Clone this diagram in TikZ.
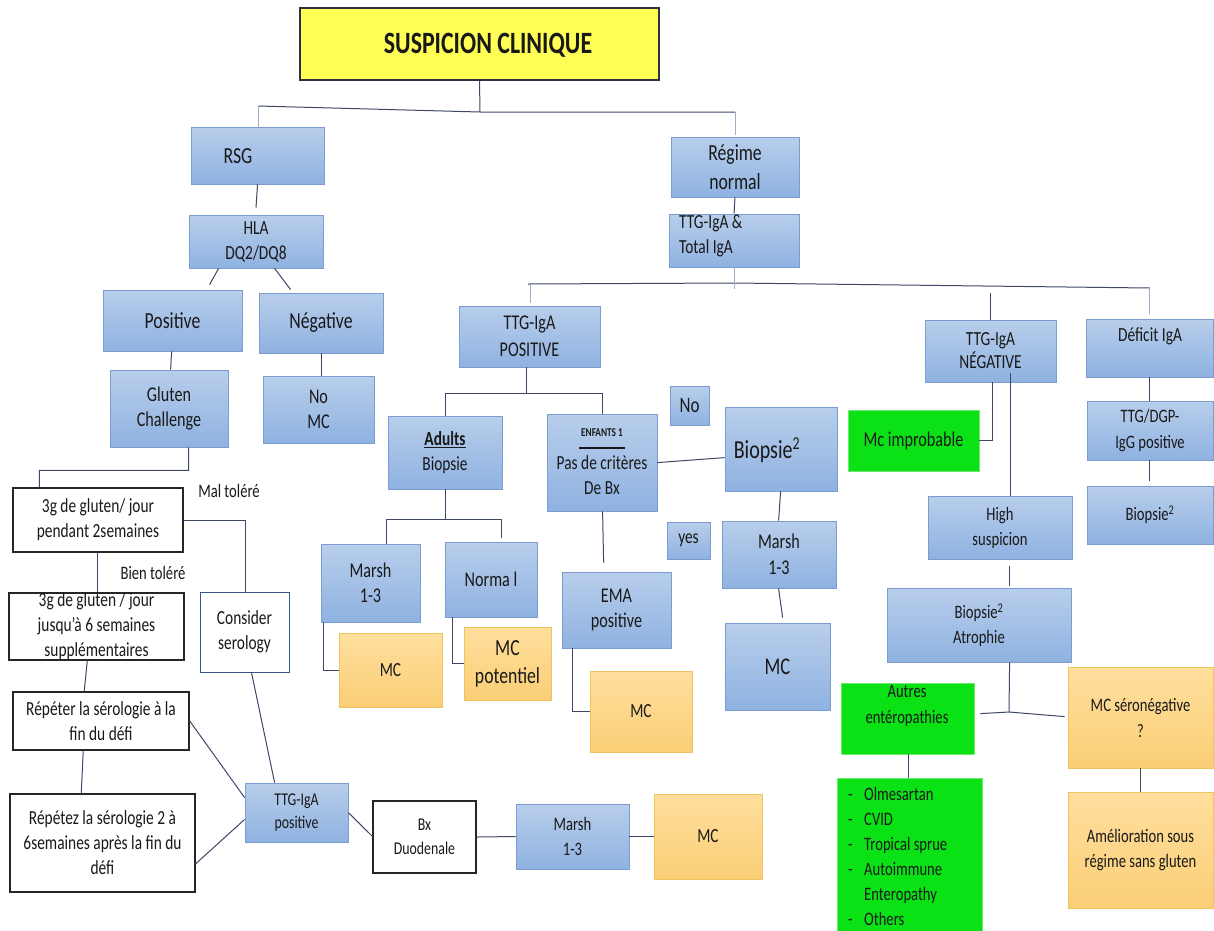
\documentclass[tikz,border=0pt]{standalone}
\usepackage{fontspec}
\setmainfont{Carlito}[FakeStretch=0.77]
\definecolor{txt}{RGB}{25,25,25}
\definecolor{bluetop}{RGB}{184,206,235}
\definecolor{bluebot}{RGB}{143,178,225}
\definecolor{bluedraw}{RGB}{122,156,206}
\definecolor{orangetop}{RGB}{255,223,158}
\definecolor{orangebot}{RGB}{250,206,118}
\definecolor{orangedraw}{RGB}{240,196,92}
\definecolor{greenfill}{RGB}{10,226,22}
\definecolor{greendraw}{RGB}{110,232,110}
\definecolor{yellowfill}{RGB}{255,255,85}
\definecolor{yellowdraw}{RGB}{45,50,66}
\definecolor{linedark}{RGB}{62,72,102}
\definecolor{linelight}{RGB}{158,174,200}
\definecolor{serodraw}{RGB}{55,85,140}

\tikzset{
  fs/.style 2 args={font=\fontsize{#1}{#2}\selectfont},
  fsb/.style 2 args={font=\fontsize{#1}{#2}\selectfont\bfseries},
  base/.style={rectangle, inner sep=0pt, align=center, text=txt, fs={20}{25}},
  bluebox/.style={base, draw=bluedraw, line width=0.8pt, top color=bluetop, bottom color=bluebot},
  orangebox/.style={base, draw=orangedraw, line width=0.8pt, top color=orangetop, bottom color=orangebot},
  greenbox/.style={base, draw=greendraw, line width=0.8pt, fill=greenfill},
  whitebox/.style={base, draw=black!85, line width=1.5pt, fill=white},
  serobox/.style={base, draw=serodraw, line width=1pt, fill=white},
  titlebox/.style={base, draw=yellowdraw, line width=1.8pt, fill=yellowfill},
  label/.style={base, inner sep=0pt},
  conn/.style={draw=linedark, line width=1pt},
  connl/.style={draw=linelight, line width=1pt},
}

% \bx[options]{style}{name}{left}{top}{right}{bottom}{text}
\newcommand\bx[8][]{%
  \pgfmathsetmacro\bxw{#6-#4}\pgfmathsetmacro\bxh{#7-#5}%
  \pgfmathsetmacro\bxx{(#4+#6)/2}\pgfmathsetmacro\bxy{(#5+#7)/2}%
  \node[#2, minimum width=\bxw pt, minimum height=\bxh pt, #1] (#3) at (\bxx,\bxy) {#8};}

\begin{document}
\begin{tikzpicture}[x=1pt, y=-1pt]
\useasboundingbox (0,0) rectangle (1214,930);
\fill[white] (0,0) rectangle (1214,930);

% ---------- boxes ----------
\bx{titlebox}{title}{300}{8}{659}{80}{}
\node[label, fsb={31}{36}] (title-t) at (488,45) {SUSPICION CLINIQUE};

% left branch: gluten-free diet
\bx{bluebox}{rsg}{191}{127}{324}{184}{}
\node[label, fs={23}{28}] (rsg-t) at (238,156) {RSG};
\bx{bluebox}{hla}{189}{215}{323}{268}{HLA\\DQ2/DQ8}
\bx[fs={23}{28}]{bluebox}{pos}{103}{290}{242}{351}{Positive}
\bx[fs={23}{28}]{bluebox}{neg}{259}{293}{383}{353}{Négative}
\bx[fs={21}{25}]{bluebox}{glut}{110}{370}{228}{447}{Gluten\\Challenge}
\bx[fs={21}{25}]{bluebox}{nomc}{263}{376}{374}{443}{No\\MC}
\bx{whitebox}{g2w}{13}{488}{183}{552}{3g de gluten/ jour\\pendant 2semaines}
\bx{whitebox}{g6w}{9}{594}{184}{659}{3g de gluten / jour\\jusqu'à 6 semaines\\supplémentaires}
\bx{serobox}{cons}{200}{592}{289}{672}{Consider\\serology}
\bx{whitebox}{rep1}{13}{692}{189}{750}{Répéter la sérologie à la\\fin du défi}
\bx{whitebox}{rep2}{10}{794}{195}{892}{Répétez la sérologie 2 à\\6semaines après la fin du\\défi}
\bx[fs={18}{23}]{bluebox}{ttgl}{245}{783}{348}{842}{TTG-IgA\\positive}
\bx[fs={18}{24}]{whitebox}{bxd}{373}{801}{476}{873}{Bx\\Duodenale}
\bx[fs={19}{25}]{bluebox}{marshb}{516}{804}{629}{869}{Marsh\\1-3}
\bx{orangebox}{mcb}{654}{794}{762}{879}{MC}
\node[label, fs={19}{24}] (mal) at (229,491) {Mal toléré};
\node[label, fs={19}{24}] (bien) at (153,573) {Bien toléré};

% right branch: normal diet
\bx[fs={23}{29}]{bluebox}{regime}{671}{137}{799}{197}{Régime\\normal}
\bx{bluebox}{ttgtot}{669}{214}{799}{267}{}
\node[label, anchor=west, align=left] (ttgtot-t) at (679,235.5) {TTG-IgA \&\\Total IgA};
\bx[fs={21}{27}]{bluebox}{ttgpos}{459}{306}{600}{367}{TTG-IgA\\POSITIVE}
\bx{bluebox}{adults}{388}{416}{502}{489}{\underline{\textbf{Adults}}\\Biopsie}
\bx{bluebox}{enf}{547}{414}{657}{511}{}
\node[label, fsb={12}{14}] (enf-a) at (602,433) {ENFANTS 1};
\draw[line width=1.4pt, txt] (579,448) -- (625,448);
\node[label] (enf-b) at (602,475.5) {Pas de critères\\De Bx};
\bx[fs={22}{26}]{bluebox}{no}{670}{386}{709}{425}{No}
\bx{bluebox}{biop}{725}{407}{837}{491}{}
\node[label, fs={26}{30}] (biop-t) at (767,450) {Biopsie\textsuperscript{2}};
\bx{bluebox}{yes}{667}{522}{710}{559}{yes}
\bx[fs={21}{26}]{bluebox}{marshr}{722}{521}{836}{588}{Marsh\\1-3}
\bx[fs={24}{28}]{bluebox}{mcr}{725}{623}{830}{710}{MC}
\bx[fs={21}{25}]{bluebox}{marshl}{321}{544}{420}{622}{Marsh\\1-3}
\bx[fs={21}{25}]{bluebox}{normal}{445}{542}{537}{617}{Norma l}
\bx{orangebox}{mcl}{339}{633}{442}{707}{MC}
\bx[fs={23}{28}]{orangebox}{mcpot}{464}{627}{551}{700}{MC\\potentiel}
\bx[fs={21}{25}]{bluebox}{ema}{562}{572}{671}{648}{EMA\\positive}
\bx{orangebox}{mcema}{590}{671}{692}{752}{MC}

\bx[fs={20}{23}]{bluebox}{ttgneg}{925}{320}{1056}{382}{TTG-IgA\\NÉGATIVE}
\bx{bluebox}{def}{1086}{319}{1213}{377}{}
\node[label] (def-t) at (1150,336) {Déficit IgA};
\bx[fs={19}{26}]{bluebox}{ttgdgp}{1087}{401}{1213}{460}{TTG/DGP-\\IgG positive}
\bx[fs={19}{24}]{bluebox}{biopr}{1087}{486}{1213}{544}{Biopsie\textsuperscript{2}}
\bx[fs={21}{25}]{greenbox}{mcimp}{848}{410}{979}{471}{Mc improbable}
\bx[fs={19}{25}]{bluebox}{high}{928}{496}{1072}{559}{High\\suspicion}
\bx[fs={19}{25}]{bluebox}{atro}{887}{588}{1071}{662}{Biopsie\textsuperscript{2}\\Atrophie}
\bx{greenbox}{autres}{841}{683}{974}{754}{}
\node[label, fs={19}{26}] (autres-t) at (907,706) {Autres\\entéropathies};
\bx[fs={19}{26}]{orangebox}{mcsero}{1068}{667}{1213}{768}{MC séronégative\\?}
\bx[fs={19}{25}]{orangebox}{amel}{1068}{792}{1213}{908}{Amélioration sous\\régime sans gluten}
\bx{greenbox}{list}{837}{778}{982}{934}{}
\node[label, anchor=north west, align=left, fs={19}{25}] (list-t) at (848,783)
  {\begin{tabular}{@{}p{16pt}@{}l@{}}
   -&Olmesartan\\ -&CVID\\ -&Tropical sprue\\ -&Autoimmune\\ &Enteropathy\\ -&Others
   \end{tabular}};

% ---------- connectors ----------
\coordinate (jt) at (480,112);
\coordinate (jl) at (258,106);
\coordinate (jr) at (735,112);
\draw[conn] (title.south) -- (jt);
\draw[conn] (jl) -- (jt) -- (jr);
\draw[connl] (jl) -- (jl |- rsg.north);
\draw[connl] (jr) -- ([yshift=2pt]jr |- regime.north);

\draw[conn] (rsg.south) -- ([yshift=7pt]hla.north);
\draw[conn] ([xshift=30pt]hla.south west) -- ([xshift=107pt,yshift=5pt]pos.north west);
\draw[conn] ([xshift=86pt]hla.south west) -- ([xshift=32pt,yshift=3pt]neg.north west);
\draw[conn] ([xshift=69pt]pos.south west) -- ([xshift=61pt]glut.north west);
\draw[conn] ([xshift=63pt]neg.south west) -- ([xshift=59pt]nomc.north west);
\draw[conn] ([xshift=79pt]glut.south west) -- ++(0,23) -- ([xshift=27pt,yshift=17pt]g2w.north west) -- ([xshift=27pt]g2w.north west);
\draw[conn] (g2w.east) -| ([xshift=46pt]cons.north west);
\draw[conn] ([xshift=85pt]g2w.south west) -- ([xshift=89pt]g6w.north west);
\draw[conn] ([xshift=79pt]g6w.south west) -- ([xshift=72pt]rep1.north west);
\draw[conn] ([xshift=71pt]rep1.south west) -- ([xshift=72pt]rep2.north west);
\draw[conn] ([xshift=52pt]cons.south west) -- ([xshift=30pt]ttgl.north west);
\draw[conn] (rep1.east) -- ([yshift=-15pt]ttgl.north west);
\draw[conn] ([yshift=29pt]rep2.south east) -- ([yshift=23pt]ttgl.south west);
\draw[conn] ([yshift=-30pt]ttgl.north east) -- ([yshift=-36pt]bxd.north west);
\draw[conn] (bxd.east) -- (marshb.west);
\draw[conn] (marshb.east) -- (mcb.west);

\draw[conn] (regime.south) -- (ttgtot.north);
\coordinate (hl) at (528,284);
\coordinate (hm) at (734,283);
\coordinate (hr) at (1150,288);
\draw[conn] (hl) -- (hm) -- (hr);
\draw[connl] (ttgtot.south) -- ++(0,22);
\draw[connl] ([xshift=72pt,yshift=3pt]ttgpos.north west) -- ++(0,-19);
\draw[conn] (ttgneg.north) -- ++(0,-27);
\draw[connl] ([yshift=5pt]def.north) -- ++(0,-26);

\draw[conn] ([xshift=68pt]ttgpos.south west) -- ++(0,27);
\draw[conn] (adults.north) -- ++(0,-22) -| (enf.north);
\coordinate (ja) at (445,519);
\draw[conn] (adults.south) -- (ja);
\draw[conn] ([xshift=66pt]marshl.north west) |- (ja) -| ([xshift=57pt,yshift=4pt]normal.north west);
\draw[conn] ([xshift=3pt]marshl.south west) |- (mcl.west);
\draw[conn] ([xshift=8pt]normal.south west) |- (mcpot.west);
\draw[conn] ([xshift=56pt]enf.south west) -- ([xshift=42pt,yshift=9pt]ema.north west);
\draw[conn] ([xshift=11pt]ema.south west) |- (mcema.west);
\draw[conn] ([yshift=-49pt]enf.north east) -- ([yshift=-51pt]biop.north west);
\draw[conn] ([xshift=56pt]biop.south west) -- ([xshift=57pt]marshr.north west);
\draw[conn] ([xshift=57pt]marshr.south west) -- ([xshift=58pt,yshift=5pt]mcr.north west);

\draw[conn] ([xshift=68pt]ttgneg.south west) |- (mcimp.east);
\draw[conn] ([xshift=86pt,yshift=9pt]ttgneg.south west) -- ([xshift=83pt]high.north west);
\draw[conn] ([xshift=82pt,yshift=-7pt]high.south west) -- ([xshift=123pt,yshift=2pt]atro.north west);
\draw[conn] ([xshift=64pt]def.south west) -- ([xshift=63pt]ttgdgp.north west);
\draw[conn] ([xshift=63pt]ttgdgp.south west) -- ([xshift=63pt,yshift=5pt]biopr.north west);
\coordinate (jb) at (1009,712);
\draw[conn] ([xshift=123pt]atro.south west) -- (jb);
\draw[conn] ([xshift=6pt,yshift=-31pt]autres.north east) -- (jb) -- ([xshift=-3pt,yshift=-50pt]mcsero.north west);
\draw[conn] ([xshift=68pt]autres.south west) -- ([xshift=72pt]list.north west);
\draw[conn] ([xshift=73pt]mcsero.south west) -- ([xshift=73pt]amel.north west);
\end{tikzpicture}
\end{document}
